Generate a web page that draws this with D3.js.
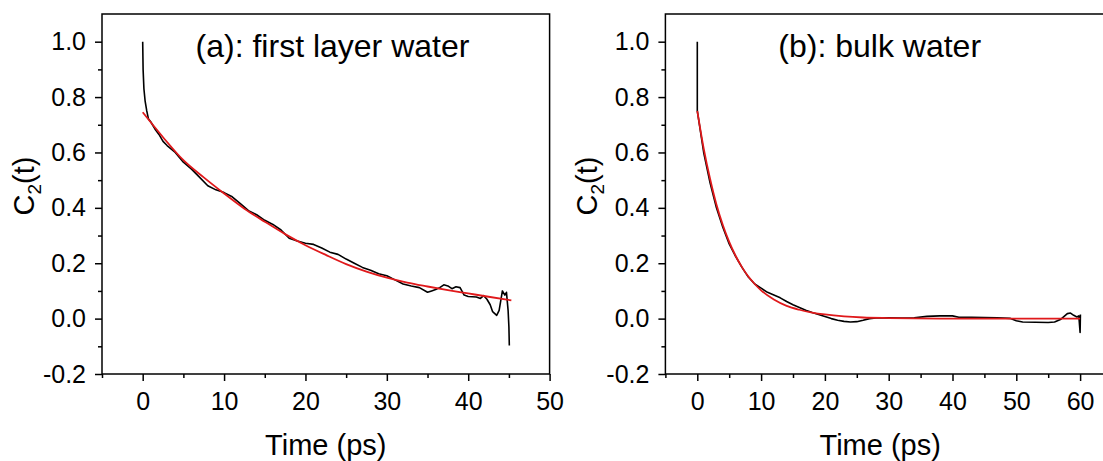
<!DOCTYPE html>
<html>
<head>
<meta charset="utf-8">
<script src="https://cdn.jsdelivr.net/npm/d3@7"></script>
<style>
  body { margin: 0; background: #fff; }
  svg text { font-family: "Liberation Sans", Arial, sans-serif; fill: #000; }
</style>
</head>
<body>
<div id="chart"></div>
<script>
// Panel (a): first layer water – raw C2(t) and its fit
const timeA = [0, 0.05, 0.15, 0.3, 0.5, 0.7, 1, 1.5, 2, 2.5, 3, 4, 5, 6, 7, 8, 9, 10, 11, 12, 13, 14, 15, 16, 17, 18, 19, 20,
  21, 22, 23, 24, 25, 26, 27, 28, 29, 30, 31, 32, 33, 34, 35, 35.5, 36, 36.5, 37, 37.5, 38, 38.5, 39, 39.5, 40, 41, 41.5,
  41.9, 42.3, 42.7, 43, 43.5, 43.8, 44.2, 44.5, 44.7, 44.9, 45, 45.05];
const c2A = [1.0, 0.9, 0.83, 0.785, 0.75, 0.722, 0.71, 0.685, 0.665, 0.64, 0.625, 0.6, 0.565, 0.54, 0.51, 0.48, 0.465, 0.455,
  0.44, 0.415, 0.39, 0.375, 0.355, 0.34, 0.32, 0.29, 0.28, 0.272, 0.268, 0.255, 0.24, 0.232, 0.215, 0.2, 0.185, 0.175, 0.162,
  0.155, 0.14, 0.125, 0.118, 0.112, 0.095, 0.1, 0.105, 0.112, 0.122, 0.118, 0.108, 0.115, 0.112, 0.085, 0.08, 0.078, 0.073,
  0.083, 0.07, 0.05, 0.025, 0.012, 0.03, 0.1, 0.085, 0.095, 0.03, -0.03, -0.097];
const fitTimeA = [0, 2.5, 5, 7.5, 10, 12.5, 15, 17.5, 20, 22.5, 25, 27.5, 30, 32.5, 35, 37.5, 40, 42.5, 45.3];
const fitA = [0.745, 0.655, 0.572, 0.51, 0.452, 0.397, 0.35, 0.305, 0.265, 0.23, 0.197, 0.17, 0.148, 0.13, 0.116, 0.103, 0.091, 0.079, 0.066];

// Panel (b): bulk water
const timeB = [0, 0, 1, 2, 3, 4, 5, 6, 7, 8, 9, 10, 11, 12, 13, 14, 15, 16, 17, 18, 19, 20, 21, 22, 23, 24, 25, 26, 27, 28,
  30, 32, 34, 36, 38, 40, 41, 43, 45, 47, 49, 50, 51, 53, 55, 56, 57, 58, 58.5, 59, 59.5, 59.8, 60, 60.05];
const c2B = [1.0, 0.75, 0.6, 0.49, 0.4, 0.33, 0.27, 0.225, 0.185, 0.15, 0.125, 0.11, 0.095, 0.085, 0.075, 0.062, 0.05, 0.04,
  0.03, 0.022, 0.015, 0.008, 0.0, -0.006, -0.01, -0.012, -0.011, -0.006, 0.0, 0.002, 0.003, 0.002, 0.003, 0.008, 0.01, 0.01,
  0.005, 0.005, 0.004, 0.003, 0.001, -0.008, -0.012, -0.013, -0.014, -0.012, -0.002, 0.018, 0.02, 0.012, 0.006, 0.01, -0.05, 0.015];
const fitTimeB = [0, 1, 2, 3, 4, 5, 6, 7, 8, 9, 10, 12, 14, 16, 18, 20, 23, 26, 30, 40, 60];
const fitB = [0.75, 0.615, 0.505, 0.412, 0.338, 0.277, 0.227, 0.186, 0.152, 0.125, 0.102, 0.069, 0.046, 0.032, 0.022, 0.015,
  0.008, 0.004, 0.002, 0.0, 0.0];

const yTicks = [-0.2, 0.0, 0.2, 0.4, 0.6, 0.8, 1.0];
const xTicksA = [0, 10, 20, 30, 40, 50];
const xTicksB = [0, 10, 20, 30, 40, 50, 60];

const W = 1103, H = 461;
const svg = d3.select("#chart").append("svg").attr("width", W).attr("height", H);

function panel(opt) {
  const x = d3.scaleLinear().domain(opt.xDomain).range([opt.left, opt.right]);
  const y = d3.scaleLinear().domain([-0.2, 1.1]).range([374, 14]);
  const g = svg.append("g");

  // minor ticks
  g.append("g").attr("transform", "translate(0,374)")
    .call(d3.axisBottom(x).tickValues(opt.xMinor).tickSize(4).tickFormat(""))
    .call(a => a.select(".domain").remove())
    .selectAll("line").attr("stroke-width", 1.5);
  g.append("g").attr("transform", `translate(${opt.left},0)`)
    .call(d3.axisLeft(y).tickValues([-0.1, 0.1, 0.3, 0.5, 0.7, 0.9]).tickSize(4).tickFormat(""))
    .call(a => a.select(".domain").remove())
    .selectAll("line").attr("stroke-width", 1.5);

  // major ticks
  const xa = g.append("g").attr("transform", "translate(0,374)")
    .call(d3.axisBottom(x).tickValues(opt.xTicks).tickSize(7).tickPadding(11).tickFormat(d3.format("d")));
  xa.select(".domain").remove();
  xa.selectAll("line").attr("stroke-width", 1.5);
  xa.selectAll("text").style("font-size", "25px").style("font-family", "Liberation Sans, Arial, sans-serif");

  const ya = g.append("g").attr("transform", `translate(${opt.left},0)`)
    .call(d3.axisLeft(y).tickValues(yTicks).tickSize(7).tickPadding(9).tickFormat(d => d.toFixed(1)));
  ya.select(".domain").remove();
  ya.selectAll("line").attr("stroke-width", 1.5);
  ya.selectAll("text").style("font-size", "25px").style("font-family", "Liberation Sans, Arial, sans-serif");

  // frame
  g.append("rect")
    .attr("x", opt.left).attr("y", 14)
    .attr("width", opt.right - opt.left).attr("height", 360)
    .attr("fill", "none").attr("stroke", "#000").attr("stroke-width", 1.5);

  const line = d3.line().x(d => x(d[0])).y(d => y(d[1]));

  g.append("path")
    .datum(d3.zip(opt.t, opt.c))
    .attr("d", line)
    .attr("fill", "none").attr("stroke", "#000").attr("stroke-width", 1.6)
    .attr("stroke-linejoin", "round");

  g.append("path")
    .datum(d3.zip(opt.ft, opt.fc))
    .attr("d", line.curve(d3.curveMonotoneX))
    .attr("fill", "none").attr("stroke", "#e0191b").attr("stroke-width", 1.8);

  // labels
  g.append("text")
    .attr("x", x(opt.noteX)).attr("y", 57)
    .style("font-size", "32px")
    .text(opt.note);

  g.append("text")
    .attr("x", (opt.left + Math.min(opt.right, W)) / 2 + opt.titleShift).attr("y", 455)
    .attr("text-anchor", "middle")
    .style("font-size", "29px")
    .text("Time (ps)");

  const yl = g.append("text")
    .attr("transform", `translate(${opt.left - 68},186) rotate(-90)`)
    .attr("text-anchor", "middle")
    .style("font-size", "29px");
  yl.append("tspan").text("C");
  yl.append("tspan").attr("dy", 7).style("font-size", "19px").text("2");
  yl.append("tspan").attr("dy", -7).text("(t)");
}

panel({
  left: 102, right: 549.6, xDomain: [-5, 50],
  xTicks: xTicksA, xMinor: [-5, 5, 15, 25, 35, 45],
  t: timeA, c: c2A, ft: fitTimeA, fc: fitA,
  note: "(a): first layer water", noteX: 6.5, titleShift: 0
});

panel({
  left: 665.4, right: 1112, xDomain: [-5, 65],
  xTicks: xTicksB, xMinor: [-5, 5, 15, 25, 35, 45, 55],
  t: timeB, c: c2B, ft: fitTimeB, fc: fitB,
  note: "(b): bulk water", noteX: 12.7, titleShift: -4
});
</script>
</body>
</html>
